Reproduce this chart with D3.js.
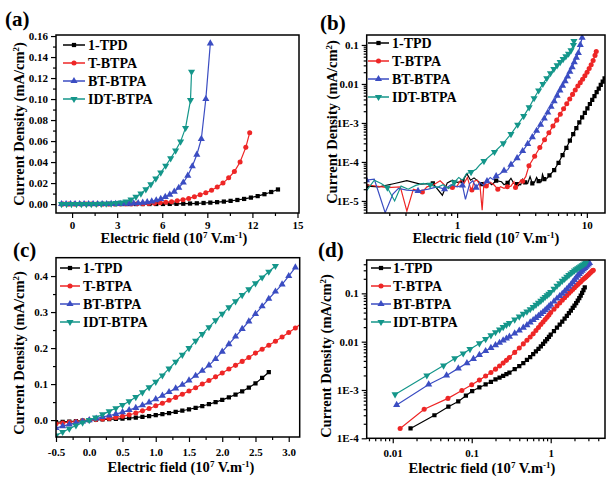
<!DOCTYPE html>
<html>
<head>
<meta charset="utf-8">
<script src="https://cdn.jsdelivr.net/npm/d3@7"></script>
<style>
  body { margin: 0; background: #fff; }
  text { font-family: "Liberation Serif", "Times New Roman", serif; font-weight: bold; }
</style>
</head>
<body>
<div id="container"></div>
<script>
/* CONSTANTS AND GLOBALS */
const width = 607;
const height = 479;

const seriesNames = ["1-TPD", "T-BTPA", "BT-BTPA", "IDT-BTPA"];
const colors = ["#000000", "#ee2626", "#3b4dc2", "#14968a"];

/* DATA : panels (a) and (b), high-field sweep, field in 1e7 V/m, J in mA/cm2 */
const sweepTPD = [[-0.7,2e-5],[-0.25,2e-5],[0.2,2.4e-5],[0.65,2.8e-5],[1.1,3.2e-5],[1.55,2.7e-5],[2.0,3.3e-5],[2.45,2.9e-5],
  [2.9,2.7e-5],[3.35,3.0e-5],[3.8,2.8e-5],[4.25,3.2e-5],[4.7,3.6e-5],[5.15,4.5e-5],[5.6,6.2e-5],[6.05,9.5e-5],[6.5,1.5e-4],
  [6.95,2.3e-4],[7.4,3.5e-4],[7.85,5.2e-4],[8.3,7.4e-4],[8.75,1.03e-3],[9.2,1.38e-3],[9.65,1.82e-3],[10.1,2.38e-3],
  [10.55,3.06e-3],[11.0,3.9e-3],[11.45,4.9e-3],[11.9,6.15e-3],[12.35,7.6e-3],[12.8,9.4e-3],[13.25,0.0115],[13.7,0.0139]];
const sweepT = [[-0.6,2e-5],[-0.22,2e-5],[0.16,2.5e-5],[0.54,1.7e-5],[0.92,2.2e-5],[1.3,1.9e-5],[1.68,2.4e-5],[2.06,2.0e-5],
  [2.44,2.3e-5],[2.82,2.2e-5],[3.2,3.2e-5],[3.58,8e-5],[3.96,1.4e-4],[4.34,2.35e-4],[4.72,3.7e-4],[5.1,5.6e-4],[5.48,8.3e-4],
  [5.86,1.18e-3],[6.24,1.67e-3],[6.62,2.3e-3],[7.0,3.1e-3],[7.38,4.1e-3],[7.76,5.4e-3],[8.14,7.0e-3],[8.52,8.9e-3],
  [8.9,0.0108],[9.28,0.0132],[9.66,0.0162],[10.04,0.020],[10.42,0.025],[10.8,0.031],[11.18,0.040],[11.56,0.054],[11.82,0.068]];
const sweepBT = [[-0.7,2e-5],[-0.4,2e-5],[-0.1,2e-5],[0.2,3.4e-5],[0.5,1.8e-5],[0.8,2.0e-5],[1.1,2.5e-5],[1.4,2.2e-5],
  [1.7,3.2e-5],[2.0,4.3e-5],[2.3,6e-5],[2.6,8.5e-5],[2.9,1.25e-4],[3.2,1.9e-4],[3.5,2.9e-4],[3.8,4.3e-4],[4.1,6.3e-4],
  [4.4,9e-4],[4.7,1.3e-3],[5.0,1.85e-3],[5.3,2.6e-3],[5.6,3.6e-3],[5.9,5.0e-3],[6.2,6.8e-3],[6.5,9.0e-3],[6.8,0.0118],
  [7.1,0.0155],[7.4,0.0205],[7.7,0.027],[8.0,0.036],[8.3,0.047],[8.6,0.062],[8.9,0.10],[9.2,0.153]];
const sweepIDT = [[-0.7,2e-5],[-0.37,2e-5],[-0.04,2e-5],[0.29,2.2e-5],[0.62,2.6e-5],[0.95,3.0e-5],[1.28,5.5e-5],[1.61,1.05e-4],
  [1.94,1.8e-4],[2.27,3.0e-4],[2.6,5.2e-4],[2.93,9e-4],[3.26,1.5e-3],[3.59,2.5e-3],[3.92,4.3e-3],[4.25,6.8e-3],[4.58,0.0100],
  [4.91,0.0140],[5.24,0.0188],[5.57,0.0242],[5.9,0.030],[6.23,0.0365],[6.56,0.0435],[6.89,0.051],[7.22,0.0595],
  [7.55,0.0725],[7.88,0.099],[7.95,0.126]];

/* extra low-current readings only visible on the log plot (b) */
const noiseTPD = [[0.25,2.3e-5],[0.33,2.8e-5],[0.41,3.3e-5],[0.52,2.7e-5],[0.77,1.4e-5],[0.84,2.9e-5],[0.92,3.4e-5],[1.0,3.0e-5],
  [1.19,5.0e-5],[1.27,3.4e-5],[1.35,3.9e-5],[1.71,3.2e-5],[1.85,2.6e-5],[2.2,3.1e-5],[2.3,2.6e-5],[2.6,3.8e-5],[2.74,2.8e-5],
  [3.09,2.6e-5],[3.2,3.6e-5],[3.5,2.8e-5],[3.65,4.2e-5],[3.95,3.0e-5],[4.1,4.0e-5],[4.45,3.1e-5],[4.55,4.8e-5],[4.9,3.7e-5]];
const noiseT = [[0.2,2.6e-5],[0.29,2.2e-5],[0.365,2.3e-5],[0.41,5.5e-6],[0.46,2.0e-5],[0.586,2.3e-5],[0.66,2.6e-5],[0.74,3.3e-5],
  [0.84,2.2e-5],[1.0,2.4e-5],[1.07,3.5e-5],[1.13,2.8e-5],[1.2,4.0e-5],[1.27,2.1e-5],[1.35,3.2e-5],[1.43,3.4e-5],[1.5,2.5e-5],
  [1.56,5.8e-6],[1.61,2.9e-5],[1.8,3.0e-5],[1.92,2.6e-5],[2.16,2.3e-5],[2.3,2.1e-5],[2.6,2.4e-5],[2.74,3.1e-5],[2.95,2.6e-5],
  [3.09,3.4e-5],[3.38,4.2e-5]];
const noiseBT = [[0.23,3.6e-5],[0.279,5e-6],[0.32,1.5e-5],[0.353,2.1e-5],[0.41,1.9e-5],[0.6,2.0e-5],[0.7,2.3e-5],[0.9,2.6e-5],
  [1.0,2.3e-5],[1.16,1.1e-5],[1.25,2.8e-5],[1.32,3.3e-5],[1.5,3.0e-5],[1.6,2.5e-5],[1.8,4.0e-5],[1.9,3.5e-5],[2.15,5.0e-5],
  [2.45,6.2e-5]];
const noiseIDT = [[0.2,1.8e-5],[0.23,3.4e-5],[0.26,2.8e-5],[0.33,1.0e-5],[0.37,2.4e-5],[0.42,2.0e-5],[0.48,2.5e-5],[0.55,2.8e-5],
  [0.7,2.2e-5],[0.78,2.6e-5],[0.86,2.1e-5],[1.03,4.0e-5],[1.1,3.4e-5],[1.18,5.0e-5],[1.4,6.5e-5],[1.5,8.5e-5]];

/* DATA : panels (c) and (d), low-field sweep */
const lowTPD = [[-0.5,-0.006],[-0.4,-0.005],[-0.3,-0.004],[-0.2,-0.003],[-0.1,-0.0015],[0,0],
  [0.0168,1.6e-4],[0.0337,3.0e-4],[0.0506,4.5e-4],[0.0675,5.8e-4],[0.0844,7.6e-4],[0.1013,9.5e-4],[0.125,1.13e-3],
  [0.15,1.3e-3],[0.175,1.48e-3],[0.2,1.65e-3],[0.225,1.8e-3],[0.25,1.95e-3],[0.275,2.12e-3],[0.3,2.3e-3],[0.35,2.7e-3],
  [0.4,3.1e-3],[0.45,3.6e-3],[0.5,4.2e-3],
  [0.55,4.8e-3],[0.6,5.5e-3],[0.65,6.3e-3],[0.7,7.1e-3],[0.75,8.0e-3],[0.8,9.0e-3],[0.85,0.0101],[0.9,0.0113],
  [0.95,0.0126],[1.0,0.014],[1.1,0.0166],[1.2,0.0195],[1.3,0.0226],[1.4,0.026],[1.5,0.030],[1.6,0.034],[1.7,0.039],
  [1.8,0.044],[1.9,0.050],[2.0,0.056],[2.1,0.063],[2.2,0.071],[2.3,0.080],[2.4,0.090],[2.5,0.102],[2.6,0.117],[2.7,0.133]];
const lowT = [[-0.5,-0.01],[-0.4,-0.008],[-0.3,-0.006],[-0.2,-0.004],[-0.1,-0.002],[0,0],
  [0.0124,1.6e-4],[0.025,4.0e-4],[0.05,6.7e-4],[0.075,9.8e-4],[0.1,1.28e-3],[0.125,1.6e-3],[0.15,1.95e-3],[0.175,2.3e-3],
  [0.2,2.7e-3],[0.225,3.15e-3],[0.25,3.6e-3],[0.275,4.1e-3],[0.3,4.7e-3],[0.35,6.0e-3],[0.4,7.4e-3],[0.45,9.0e-3],[0.5,0.0107],[0.55,0.0125],
  [0.6,0.0145],[0.65,0.017],[0.7,0.0197],[0.75,0.0226],[0.8,0.0256],[0.85,0.0287],[0.9,0.032],[0.95,0.0355],[1.0,0.040],
  [1.1,0.047],[1.2,0.055],[1.3,0.063],[1.4,0.072],[1.5,0.081],[1.6,0.090],[1.7,0.100],[1.8,0.110],[1.9,0.120],
  [2.0,0.131],[2.1,0.142],[2.2,0.152],[2.3,0.163],[2.4,0.174],[2.5,0.186],[2.6,0.197],[2.7,0.208],[2.8,0.219],
  [2.9,0.231],[3.0,0.243],[3.1,0.256],[3.2,0.27],[3.3,0.284],[3.4,0.296],[3.46,0.30]];
const lowBT = [[-0.5,-0.022],[-0.4,-0.017],[-0.3,-0.012],[-0.2,-0.008],[-0.1,-0.004],[0,0],
  [0.0112,4.9e-4],[0.0285,1.3e-3],[0.048,2.0e-3],[0.0676,2.8e-3],[0.087,3.6e-3],[0.105,4.4e-3],[0.125,5.3e-3],
  [0.15,6.4e-3],[0.175,7.4e-3],[0.2,8.5e-3],[0.225,9.5e-3],[0.25,0.0106],[0.275,0.0116],[0.3,0.0127],[0.35,0.0148],
  [0.4,0.017],[0.45,0.0195],[0.5,0.022],
  [0.55,0.025],[0.6,0.028],[0.65,0.031],[0.7,0.034],[0.75,0.0375],[0.8,0.041],[0.85,0.045],[0.9,0.049],[0.95,0.0535],
  [1.0,0.058],[1.1,0.068],[1.2,0.078],[1.3,0.088],[1.4,0.098],[1.5,0.110],[1.6,0.123],[1.7,0.137],[1.8,0.152],
  [1.9,0.170],[2.0,0.190],[2.1,0.211],[2.2,0.232],[2.3,0.253],[2.4,0.274],[2.5,0.295],[2.6,0.316],[2.7,0.337],
  [2.8,0.357],[2.9,0.377],[3.0,0.400],[3.1,0.424]];
const lowIDT = [[-0.5,-0.043],[-0.4,-0.033],[-0.3,-0.024],[-0.2,-0.015],[-0.1,-0.007],[0,0],
  [0.0107,8.1e-4],[0.027,2.0e-3],[0.044,3.2e-3],[0.061,4.5e-3],[0.078,5.7e-3],[0.095,7.0e-3],[0.125,9.2e-3],
  [0.15,0.0113],[0.175,0.0135],[0.2,0.0157],[0.225,0.0178],[0.25,0.020],[0.275,0.0222],[0.3,0.0243],[0.35,0.0286],
  [0.4,0.033],[0.45,0.0375],[0.5,0.042],
  [0.55,0.047],[0.6,0.052],[0.65,0.058],[0.7,0.064],[0.75,0.070],[0.8,0.077],[0.85,0.084],[0.9,0.091],[0.95,0.098],
  [1.0,0.106],[1.1,0.124],[1.2,0.143],[1.3,0.162],[1.4,0.181],[1.5,0.200],[1.6,0.220],[1.7,0.239],[1.8,0.258],
  [1.9,0.277],[2.0,0.295],[2.1,0.313],[2.2,0.330],[2.3,0.347],[2.4,0.363],[2.5,0.380],[2.6,0.396],[2.7,0.412],[2.8,0.428]];

/* TICKS */
const ticksA_x = [0, 3, 6, 9, 12, 15];
const ticksA_y = [0, 0.02, 0.04, 0.06, 0.08, 0.10, 0.12, 0.14, 0.16];
const ticksB_x = [1, 10];
const ticksB_y = [1e-5, 1e-4, 1e-3, 0.01, 0.1];
const ticksC_x = [-0.5, 0, 0.5, 1.0, 1.5, 2.0, 2.5, 3.0];
const ticksC_y = [0, 0.1, 0.2, 0.3, 0.4];
const ticksD_x = [0.01, 0.1, 1];
const ticksD_y = [1e-4, 1e-3, 0.01, 0.1];

const sweep = [sweepTPD, sweepT, sweepBT, sweepIDT];
const noise = [noiseTPD, noiseT, noiseBT, noiseIDT];
const low = [lowTPD, lowT, lowBT, lowIDT];

const positive = d => d[0] > 0 && d[1] > 0;
const byX = (a, b) => a[0] - b[0];
const hyphen = f => v => f(v).replace("\u2212", "-");
const logLabel = v => v >= 0.01 ? String(v) : "1E" + Math.round(Math.log10(v));

function logMinor(domain) {
  const out = [];
  for (let e = Math.floor(Math.log10(domain[0])); e <= Math.ceil(Math.log10(domain[1])); e++) {
    for (let k = 2; k <= 9; k++) {
      const v = k * Math.pow(10, e);
      if (v >= domain[0] && v <= domain[1]) out.push(v);
    }
  }
  return out;
}

const panels = [
  { id: "a", box: [56, 35, 299, 213], xLog: false, yLog: false,
    xDomain: [-1.07, 15.1], yDomain: [-0.0085, 0.161],
    xTicks: ticksA_x, xMinor: [1.5, 4.5, 7.5, 10.5, 13.5], xFmt: d3.format("d"),
    yTicks: ticksA_y, yMinor: [0.01, 0.03, 0.05, 0.07, 0.09, 0.11, 0.13, 0.15], yFmt: d3.format(".2f"),
    series: sweep.map(s => ({ line: s, marks: s })), thin: false, xPad: 3,
    letter: [5, 26], yTitle: [24, 124], xTitle: [174, 243], legend: [63, 85, 88, 45] },
  { id: "b", box: [366.7, 35, 605, 213], xLog: true, yLog: true,
    xDomain: [0.201, 13.8], yDomain: [4.9e-6, 0.18],
    xTicks: ticksB_x, xMinor: logMinor([0.201, 13.8]), xFmt: String,
    yTicks: ticksB_y, yMinor: logMinor([4.9e-6, 0.18]), yFmt: logLabel,
    series: sweep.map((s, i) => ({ line: s.concat(noise[i]).filter(positive).sort(byX), marks: s.filter(positive) })),
    thin: false, xPad: 3,
    letter: [320, 30], yTitle: [337, 122], xTitle: [486, 243], legend: [368, 389, 392, 43] },
  { id: "c", box: [56, 257.7, 299.7, 437], xLog: false, yLog: false,
    xDomain: [-0.5, 3.165], yDomain: [-0.047, 0.451],
    xTicks: ticksC_x, xMinor: [-0.25, 0.25, 0.75, 1.25, 1.75, 2.25, 2.75], xFmt: hyphen(d3.format(".1f")),
    yTicks: ticksC_y, yMinor: [0.05, 0.15, 0.25, 0.35], yFmt: hyphen(d3.format(".1f")),
    series: low.map(s => ({ line: s, marks: s })), thin: true, xPad: 6,
    letter: [13, 257], yTitle: [24, 353], xTitle: [181, 472], legend: [60, 80, 83, 268] },
  { id: "d", box: [366.7, 260, 605, 438.3], xLog: true, yLog: true,
    xDomain: [0.00468, 4.87], yDomain: [1e-4, 0.49],
    xTicks: ticksD_x, xMinor: logMinor([0.00468, 4.87]), xFmt: String,
    yTicks: ticksD_y, yMinor: logMinor([1e-4, 0.49]), yFmt: logLabel,
    series: low.map(s => ({ line: s.filter(positive), marks: s.filter(positive) })), thin: false, xPad: 6,
    letter: [318, 257], yTitle: [331, 356], xTitle: [482, 473], legend: [371, 391, 393, 268] }
];

/* HTML ELEMENTS */
const svg = d3.select("#container")
  .append("svg")
  .attr("width", width)
  .attr("height", height)
  .style("background", "#fff");

function marker(sel, i) {
  const types = [d3.symbolSquare, d3.symbolCircle, d3.symbolTriangle, d3.symbolTriangle];
  const sizes = [18, 20, 22, 22];
  sel.attr("d", d3.symbol(types[i], sizes[i])())
    .attr("fill", colors[i]);
}

function thinMarks(points, x, gap) {
  const kept = [];
  let last = -Infinity;
  points.forEach(p => {
    const px = x(p[0]);
    if (px - last >= gap) { kept.push(p); last = px; }
  });
  return kept;
}

function drawPanel(p) {
  const [x0, y0, x1, y1] = p.box;
  const x = (p.xLog ? d3.scaleLog() : d3.scaleLinear()).domain(p.xDomain).range([x0, x1]);
  const y = (p.yLog ? d3.scaleLog() : d3.scaleLinear()).domain(p.yDomain).range([y1, y0]);
  const g = svg.append("g");

  svg.append("clipPath").attr("id", "clip-" + p.id)
    .append("rect").attr("x", x0).attr("y", y0).attr("width", x1 - x0).attr("height", y1 - y0);

  const plot = g.append("g").attr("clip-path", `url(#clip-${p.id})`);
  const line = d3.line().x(d => x(d[0])).y(d => y(d[1]));

  p.series.forEach((s, i) => {
    plot.append("path")
      .datum(s.line)
      .attr("fill", "none")
      .attr("stroke", colors[i])
      .attr("stroke-width", 1.2)
      .attr("d", line);
    const marks = p.thin ? thinMarks(s.marks, x, 6) : s.marks;
    plot.selectAll(null)
      .data(marks)
      .join("path")
      .attr("transform", d => `translate(${x(d[0])},${y(d[1])})` + (i === 3 ? " rotate(180)" : ""))
      .call(marker, i);
  });

  // axes (ticks outward, left and bottom only)
  const styleAxis = a => a.attr("font-size", 11)
    .attr("font-family", '"Liberation Serif", "Times New Roman", serif')
    .attr("font-weight", "bold")
    .call(s => s.select(".domain").remove())
    .call(s => s.selectAll("line").attr("stroke-width", 1.2));

  g.append("g").attr("transform", `translate(0,${y1})`)
    .call(d3.axisBottom(x).tickValues(p.xTicks).tickFormat(p.xFmt).tickSize(5).tickPadding(p.xPad))
    .call(styleAxis);
  g.append("g").attr("transform", `translate(0,${y1})`)
    .call(d3.axisBottom(x).tickValues(p.xMinor).tickFormat("").tickSize(3))
    .call(styleAxis);
  g.append("g").attr("transform", `translate(${x0},0)`)
    .call(d3.axisLeft(y).tickValues(p.yTicks).tickFormat(p.yFmt).tickSize(5).tickPadding(3))
    .call(styleAxis);
  g.append("g").attr("transform", `translate(${x0},0)`)
    .call(d3.axisLeft(y).tickValues(p.yMinor).tickFormat("").tickSize(3))
    .call(styleAxis);

  g.append("rect")
    .attr("x", x0).attr("y", y0)
    .attr("width", x1 - x0).attr("height", y1 - y0)
    .attr("fill", "none").attr("stroke", "#000").attr("stroke-width", 1.5);

  // panel letter
  g.append("text").attr("x", p.letter[0]).attr("y", p.letter[1])
    .attr("font-size", 21).text(`(${p.id})`);

  // y title
  const yt = g.append("text")
    .attr("transform", `translate(${p.yTitle[0]},${p.yTitle[1]}) rotate(-90)`)
    .attr("text-anchor", "middle").attr("font-size", 14.5);
  yt.append("tspan").text("Current Density (mA/cm");
  yt.append("tspan").attr("dy", -5).attr("font-size", 9).text("2");
  yt.append("tspan").attr("dy", 5).text(")");

  // x title
  const xt = g.append("text")
    .attr("x", p.xTitle[0]).attr("y", p.xTitle[1])
    .attr("text-anchor", "middle").attr("font-size", 14.5);
  xt.append("tspan").text("Electric field (10");
  xt.append("tspan").attr("dy", -5).attr("font-size", 9).text("7");
  xt.append("tspan").attr("dy", 5).text(" V.m");
  xt.append("tspan").attr("dy", -5).attr("font-size", 9).text("-1");
  xt.append("tspan").attr("dy", 5).text(")");

  // legend
  const [lx0, lx1, tx, ly] = p.legend;
  seriesNames.forEach((name, i) => {
    const yy = ly + i * 18;
    g.append("line").attr("x1", lx0).attr("x2", lx1).attr("y1", yy).attr("y2", yy)
      .attr("stroke", colors[i]).attr("stroke-width", 1.5);
    g.append("path")
      .attr("transform", `translate(${(lx0 + lx1) / 2},${yy})` + (i === 3 ? " rotate(180)" : ""))
      .call(marker, i);
    g.append("text").attr("x", tx).attr("y", yy + 5).attr("font-size", 14).text(name);
  });
}

panels.forEach(drawPanel);
</script>
</body>
</html>
